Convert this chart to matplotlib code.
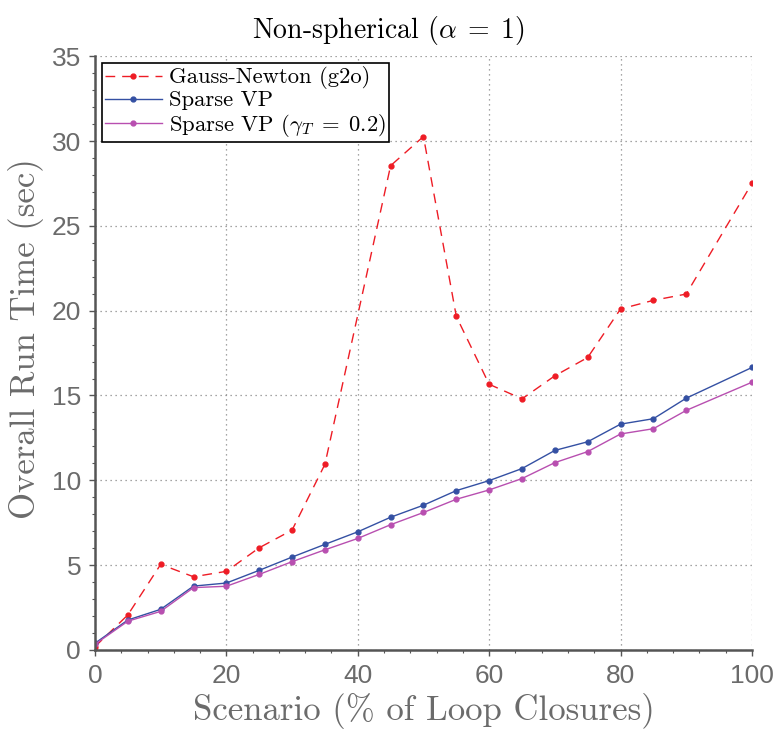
import numpy as np
import matplotlib
matplotlib.use("Agg")
import matplotlib.pyplot as plt
from matplotlib.ticker import MultipleLocator

# data
x_gn = [0, 5, 10, 15, 20, 25, 30, 35, 45, 50, 55, 60, 65, 70, 75, 80, 85, 90, 100]
gauss_newton = [0.19, 2.06, 5.04, 4.31, 4.63, 6.02, 7.06, 10.94, 28.55, 30.27, 19.66,
                15.66, 14.80, 16.16, 17.24, 20.10, 20.61, 20.98, 27.51]

x_vp = [0, 5, 10, 15, 20, 25, 30, 35, 40, 45, 50, 55, 60, 65, 70, 75, 80, 85, 90, 100]
sparse_vp = [0.39, 1.76, 2.39, 3.76, 3.94, 4.69, 5.47, 6.22, 6.96, 7.82, 8.53, 9.39,
             9.98, 10.69, 11.76, 12.27, 13.31, 13.63, 14.84, 16.65]
sparse_vp_g = [0.33, 1.69, 2.27, 3.67, 3.75, 4.45, 5.20, 5.90, 6.57, 7.38, 8.10, 8.88,
               9.43, 10.10, 11.04, 11.69, 12.73, 13.04, 14.12, 15.78]

plt.rcParams['mathtext.fontset'] = 'cm'
serif = 'cmr10'
gray = '#6b6b6b'

fig = plt.figure(figsize=(7.76, 7.31), dpi=100)
ax = fig.add_axes([0.1224, 0.111, 0.8466, 0.812])

ax.plot(x_gn, gauss_newton, color='#ee1c25', ls=(0, (7, 5)), lw=1.0, marker='o', ms=3.5,
        label='Gauss-Newton (g2o)')
ax.plot(x_vp, sparse_vp, color='#3450a3', lw=1.0, marker='o', ms=3.5, label='Sparse VP')
ax.plot(x_vp, sparse_vp_g, color='#b84fb0', lw=1.0, marker='o', ms=3.5,
        label=r'Sparse VP ($\gamma_T\;=\;0.2$)')

ax.set_xlim(0, 100)
ax.set_ylim(0, 35)
ax.xaxis.set_major_locator(MultipleLocator(20))
ax.xaxis.set_minor_locator(MultipleLocator(4))
ax.yaxis.set_major_locator(MultipleLocator(5))
ax.yaxis.set_minor_locator(MultipleLocator(1))

for s in ['top', 'right']:
    ax.spines[s].set_visible(False)
for s in ['left', 'bottom']:
    ax.spines[s].set_color('#555555')
    ax.spines[s].set_linewidth(1.8)

ax.tick_params(which='major', length=4, width=1, color='#555555', labelcolor=gray,
               labelsize=19, pad=6)
ax.tick_params(which='minor', length=2.5, width=0.8, color='#555555')
for lab in ax.get_xticklabels() + ax.get_yticklabels():
    lab.set_fontfamily(['Liberation Sans', 'DejaVu Sans'])

ax.grid(True, which='major', ls=(0, (1, 3)), color='#888888', lw=0.9)
ax.set_axisbelow(True)

ax.set_xlabel('Scenario (% of Loop Closures)', family=serif, fontsize=25, color=gray,
              labelpad=4)
ax.set_ylabel('Overall Run Time (sec)', family=serif, fontsize=25, color=gray)
ax.yaxis.set_label_coords(-0.078, 0.525)
# title is centred on the figure, not on the axes
fig.text(0.5, 0.958, r'Non-spherical ($\alpha\;=\;1$)', family=serif, fontsize=20,
         ha='center', va='center')

leg = ax.legend(loc='upper left', prop={'family': serif, 'size': 16.3}, fancybox=False,
                framealpha=1, edgecolor='black', borderpad=0.15, handlelength=2.5,
                labelspacing=0.05, handletextpad=0.3, borderaxespad=0.3)
leg.get_frame().set_linewidth(1.2)

fig.savefig('out.png', dpi=100)
